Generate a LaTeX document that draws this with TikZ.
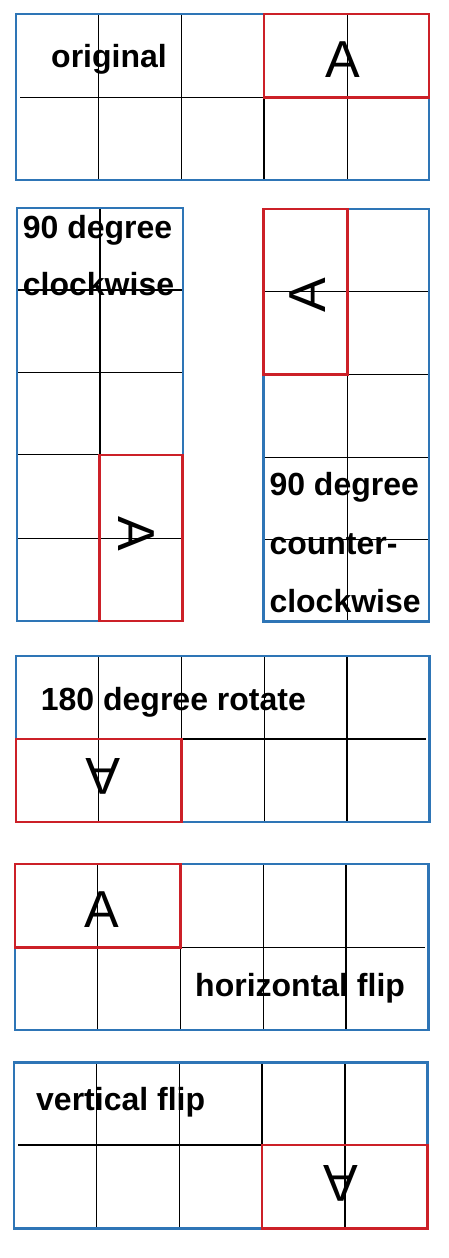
\documentclass[tikz,border=0pt]{standalone}
\usepackage{fontspec}
\setmainfont{Liberation Sans}
\usepackage{tikz}
\usetikzlibrary{positioning}
\definecolor{boxblue}{RGB}{46,117,182}
\definecolor{markred}{RGB}{204,32,40}

\begin{document}
\begin{tikzpicture}[
    x=1pt, y=1pt,
    cellline/.style={black, line width=1.2pt},
    outerbox/.style={draw=boxblue, line width=2.6pt},
    markbox/.style={draw=markred, line width=2.8pt},
    biglabel/.style={font=\bfseries\fontsize{32}{34}\selectfont, inner sep=0pt, anchor=base west},
    letter/.style={font=\fontsize{52}{52}\selectfont, inner sep=0pt}
]
\useasboundingbox (0,0) rectangle (448,-1258);

% original
\foreach \x in {98.7,181.7,264,347.3}
    \draw[cellline] (\x,-14) -- (\x,-180);
\draw[cellline] (20,-97.7) -- (429,-97.7);
\draw[outerbox] (16,-14) rectangle (429,-180);
\draw[markbox] (264,-14) rectangle (429,-97.7);
\node[letter] (orgA) at (343,-60) {A};
\node[biglabel] (orgtxt) at (51,-67) {original};

% 90 degree clockwise
\draw[cellline] (100,-208) -- (100,-621);
\foreach \y in {290,372.3,454.3,538.3}
    \draw[cellline] (17,-\y) -- (183,-\y);
\draw[outerbox] (17,-208) rectangle (183,-621);
\draw[markbox] (99.3,-455) rectangle (182.7,-621);
\node[letter, rotate=-90] (cwA) at (136.7,-534) {A};
\node[biglabel] (cwtxt1) at (22.7,-238) {90 degree};
\node[biglabel] (cwtxt2) at (22.7,-295) {clockwise};

% 90 degree counter-clockwise
\draw[cellline] (347.3,-209) -- (347.3,-621.7);
\foreach \y in {291.7,374.3,457.3,539.3}
    \draw[cellline] (263.3,-\y) -- (429,-\y);
\draw[outerbox] (263.3,-209) rectangle (429,-621.7);
\draw[markbox] (263.3,-209) rectangle (347.3,-374.3);
\node[letter, rotate=90] (ccwA) at (308,-295) {A};
\node[biglabel] (ccwtxt1) at (269.3,-495) {90 degree};
\node[biglabel] (ccwtxt2) at (269.3,-554) {counter-};
\node[biglabel] (ccwtxt3) at (269.3,-612) {clockwise};

% 180 degree rotate
\foreach \x in {98.7,181.7,264.3,347}
    \draw[cellline] (\x,-656) -- (\x,-822);
\draw[cellline] (16,-739) -- (426,-739);
\draw[outerbox] (16,-656) rectangle (429.3,-822);
\draw[markbox] (16,-739) rectangle (181.7,-822);
\node[letter, rotate=180] (rotA) at (103,-776.7) {A};
\node[biglabel] (rottxt) at (40.7,-710) {180 degree rotate};

% horizontal flip
\foreach \x in {97.7,180.7,263.3,346}
    \draw[cellline] (\x,-864) -- (\x,-1030);
\draw[cellline] (15,-947.7) -- (425,-947.7);
\draw[outerbox] (15,-864) rectangle (428.3,-1030);
\draw[markbox] (15,-864) rectangle (180.7,-947.7);
\node[letter] (hA) at (101.7,-910) {A};
\node[biglabel] (htxt) at (195,-996.7) {horizontal flip};

% vertical flip
\foreach \x in {96.7,179.3,262,345}
    \draw[cellline] (\x,-1062.7) -- (\x,-1228.3);
\draw[cellline] (18,-1145) -- (427.7,-1145);
\draw[outerbox] (14,-1062.7) rectangle (427.7,-1228.3);
\draw[markbox] (262,-1145) rectangle (427.7,-1228.3);
\node[letter, yscale=-1] (vA) at (340.7,-1183.3) {A};
\node[biglabel] (vtxt) at (36,-1110) {vertical flip};
\end{tikzpicture}
\end{document}
